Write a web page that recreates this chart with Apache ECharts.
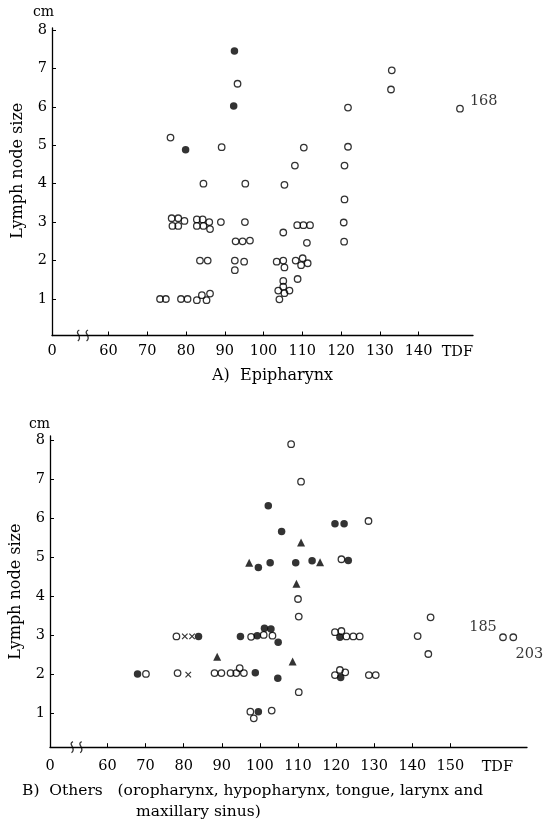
<!DOCTYPE html>
<html>
<head>
<meta charset="utf-8">
<script src="https://cdn.jsdelivr.net/npm/echarts@6/dist/echarts.min.js"></script>
<style>
html,body{margin:0;padding:0;background:#fff;}
#main{width:555px;height:819px;}
</style>
</head>
<body>
<div id="main"></div>
<script>
// ---------- Data (TDF, lymph node size in cm) ----------
// A) Epipharynx
const openA = [
  [73.3,1.0],[74.8,1.0],[78.7,1.0],[80.4,1.0],[82.8,0.97],[84.1,1.1],[85.3,0.97],[86.2,1.14],
  [76.3,3.1],[78.0,3.1],[79.6,3.03],[76.5,2.9],[78.0,2.9],
  [82.8,3.07],[84.3,3.07],[86.0,3.0],[82.8,2.9],[84.5,2.9],[86.2,2.82],[89.0,3.0],[95.2,3.0],
  [92.8,2.5],[94.6,2.5],[96.5,2.52],
  [83.6,2.0],[85.6,2.0],[92.6,2.0],[95.0,1.97],[92.6,1.75],
  [84.5,4.0],[95.3,4.0],[76.0,5.2],[89.2,4.95],[93.3,6.6],
  [103.4,1.97],[105.1,2.0],[105.4,1.82],[108.3,2.0],[110.1,2.06],[109.7,1.88],[111.4,1.93],[108.8,1.52],
  [105.1,1.47],[105.1,1.32],[103.8,1.22],[106.7,1.22],[105.4,1.15],[104.1,0.99],
  [105.1,2.73],[108.7,2.92],[110.3,2.92],[112.0,2.92],[111.2,2.46],
  [105.4,3.97],[108.1,4.47],[110.4,4.94],
  [120.8,2.49],[120.7,2.99],[120.9,3.59],[120.9,4.47],[121.8,4.96],[121.8,5.98],
  [132.9,6.45],[133.1,6.95]
];
const filledA = [[92.5,7.45],[92.3,6.02],[79.9,4.88]];
const farA = [[150.7,5.95,'168']];   // off-scale case, drawn at the right edge

// B) Others
const openB = [
  [70.1,2.0],[78.1,2.96],[78.4,2.02],
  [88.1,2.02],[89.9,2.02],[92.3,2.02],[93.8,2.02],[94.7,2.15],[95.8,2.02],
  [97.7,2.95],[101.0,3.0],[103.3,2.98],
  [97.5,1.03],[98.4,0.86],[103.1,1.06],
  [108.2,7.89],[110.8,6.93],[128.5,5.92],[121.4,4.94],[110.0,3.92],[110.2,3.47],[110.2,1.53],
  [119.7,3.07],[121.4,3.10],[122.7,2.96],[124.5,2.96],[126.2,2.96],
  [119.7,1.97],[121.0,2.10],[122.4,2.04],[128.6,1.97],[130.4,1.97],
  [141.4,2.97],[144.8,3.45],[144.2,2.51]
];
const filledB = [
  [67.9,2.0],[83.9,2.96],[94.9,2.96],[99.3,2.98],[101.2,3.17],[102.9,3.15],[104.8,2.81],
  [98.8,2.03],[104.7,1.89],[99.6,1.03],
  [102.2,6.31],[105.7,5.65],[119.7,5.85],[122.1,5.85],[99.6,4.73],[102.7,4.85],[109.4,4.85],[113.7,4.90],[123.2,4.91],
  [121.0,2.94],[121.2,1.91]
];
const triB = [[88.8,2.44],[97.2,4.85],[110.8,5.37],[115.8,4.86],[109.6,4.31],[108.6,2.32]];
const crossB = [[80.3,2.96],[82.2,2.96],[81.2,1.98]];
const farB = [[163.8,2.94,'185'],[166.5,2.94,'203']];

// ---------- Axis ticks / labels ----------
const yTicks = [1,2,3,4,5,6,7,8];
const xTicksA = [60,70,80,90,100,110,120,130,140];
const xTicksB = [60,70,80,90,100,110,120,130,140,150];
const xRangeA = [45.42, 154.06];
const xRangeB = [44.92, 170.1];
const yRangeA = [0.05, 8.05];
const yRangeB = [0.12, 8.1];
const breakA = 53.4, breakB = 51.9;   // position of the axis-break mark

const INK = '#000';
const SERIF = '"DejaVu Serif", "Liberation Serif", serif';

function xAxisCfg(grid, range, ticks, nameGap, margin, namePad){
  return {
    type:'value', gridIndex:grid, min:range[0], max:range[1],
    name:'TDF', nameLocation:'end', nameGap:nameGap,
    nameTextStyle:{fontFamily:SERIF, fontSize:14.5, color:INK, align:'right', verticalAlign:'top', padding:[namePad,0,0,0]},
    axisLine:{show:true, onZero:false, lineStyle:{color:INK, width:1.3}},
    axisTick:{show:true, inside:true, length:4, customValues:ticks, lineStyle:{color:INK, width:1}},
    axisLabel:{show:true, customValues:[range[0]].concat(ticks), margin:margin,
      formatter:v => (v < 55 ? '0' : String(Math.round(v))),
      fontFamily:SERIF, fontSize:14.5, color:INK},
    splitLine:{show:false}
  };
}
function yAxisCfg(grid, range, padLeft){
  return {
    type:'value', gridIndex:grid, min:range[0], max:range[1],
    name:'Lymph node size', nameLocation:'middle', nameGap:26, nameRotate:90,
    nameTextStyle:{fontFamily:SERIF, fontSize:16, color:INK, padding:[0,0,0,padLeft]},
    axisLine:{show:true, onZero:false, lineStyle:{color:INK, width:1.3}},
    axisTick:{show:true, inside:true, length:4, customValues:yTicks, lineStyle:{color:INK, width:1}},
    axisLabel:{show:true, customValues:yTicks, margin:5, fontFamily:SERIF, fontSize:14.5, color:INK},
    splitLine:{show:false}
  };
}

const openStyle = {color:'rgba(255,255,255,0)', borderColor:INK, borderWidth:1.3};
const fillStyle = {color:INK};
const crossPath = 'path://M0,0L10,10M10,0L0,10';
const breakPath = 'path://M4,0C0,3 7,7 3,12M10,0C6,3 13,7 9,12';
const breakStyle = {color:'rgba(0,0,0,0)', borderColor:INK, borderWidth:1.3};

function sc(name, x, y, data, symbol, size, style, extra){
  return Object.assign({
    name:name, type:'scatter', xAxisIndex:x, yAxisIndex:y,
    data:data, symbol:symbol, symbolSize:size, itemStyle:style,
    emphasis:{disabled:true}, silent:true, z:3
  }, extra||{});
}

const farLabelA = {position:'right', distance:6, offset:[0,-7]};
const farLabelsB = [
  {position:'top', distance:0, offset:[-20,1]},
  {position:'bottom', distance:1, offset:[16,5]}
];
const labelText = {fontFamily:SERIF, fontSize:14.5, color:INK};

const option = {
  animation:false,
  backgroundColor:'#fff',
  title:[
    {text:'cm', left:33, top:5, padding:0, textStyle:{fontFamily:SERIF, fontSize:14, fontWeight:'normal', color:INK}},
    {text:'A)  Epipharynx', left:212, top:368, padding:0, textStyle:{fontFamily:SERIF, fontSize:16, fontWeight:'normal', color:INK}},
    {text:'cm', left:29, top:417, padding:0, textStyle:{fontFamily:SERIF, fontSize:14, fontWeight:'normal', color:INK}},
    {text:'B)  Others   (oropharynx, hypopharynx, tongue, larynx and', left:22, top:783, padding:0, textStyle:{fontFamily:SERIF, fontSize:15.5, fontWeight:'normal', color:INK}},
    {text:'maxillary sinus)', left:136, top:804, padding:0, textStyle:{fontFamily:SERIF, fontSize:15.5, fontWeight:'normal', color:INK}}
  ],
  grid:[
    {left:52, top:28, width:421, height:307.5, containLabel:false},
    {left:48, top:436, width:479, height:311.2, containLabel:false}
  ],
  xAxis:[ xAxisCfg(0, xRangeA, xTicksA, 0, 8, 9), xAxisCfg(1, xRangeB, xTicksB, -14, 12, 13) ],
  yAxis:[ yAxisCfg(0, yRangeA, 22), yAxisCfg(1, yRangeB, 0) ],
  series:[
    sc('A open',0,0,openA,'circle',6.5,openStyle),
    sc('A filled',0,0,filledA,'circle',7.5,fillStyle),
    sc('A far',0,0,farA.map(d=>({value:[d[0],d[1]], name:d[2]})),'circle',6.5,openStyle,
       {label:Object.assign({show:true, formatter:'{b}'}, farLabelA, labelText)}),
    sc('A break',0,0,[[breakA, yRangeA[0]]],breakPath,[11,11],breakStyle,{clip:false}),

    sc('B open',1,1,openB,'circle',6.5,openStyle),
    sc('B filled',1,1,filledB,'circle',7.5,fillStyle),
    sc('B triangle',1,1,triB,'triangle',8,fillStyle),
    sc('B cross',1,1,crossB,crossPath,5.5,{color:'rgba(0,0,0,0)', borderColor:INK, borderWidth:1.2}),
    sc('B far',1,1,farB.map((d,i)=>({value:[d[0],d[1]], name:d[2], label:farLabelsB[i]})),'circle',6.5,openStyle,
       {label:Object.assign({show:true, formatter:'{b}'}, labelText)}),
    sc('B break',1,1,[[breakB, yRangeB[0]]],breakPath,[11,11],breakStyle,{clip:false})
  ]
};
const chart = echarts.init(document.getElementById('main'), null, {renderer:'canvas'});
chart.setOption(option);
</script>
</body>
</html>
